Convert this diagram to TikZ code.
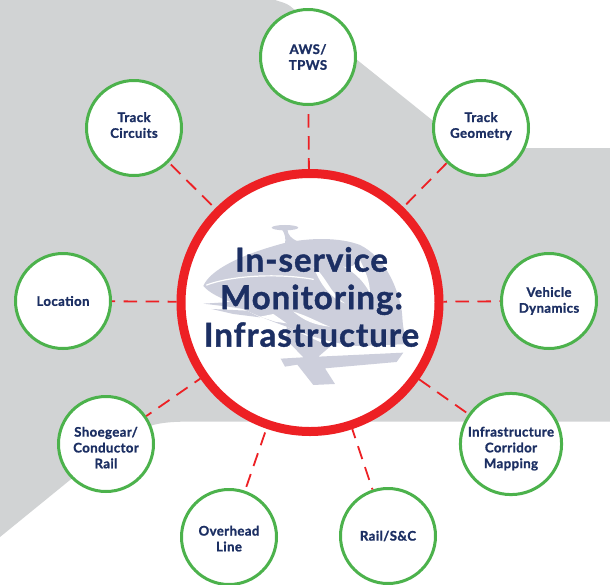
\documentclass[tikz,border=0pt]{standalone}
\usepackage{fontspec}
\setmainfont{Lato}[BoldFeatures={FakeBold=1.2,LetterSpace=3}]
\definecolor{bggray}{HTML}{D1D3D4}
\definecolor{ringred}{HTML}{ED2024}
\definecolor{ringgreen}{HTML}{4CB24C}
\definecolor{navy}{HTML}{1C2F63}
\definecolor{logogray}{HTML}{CDCFDC}
\newcommand\txtdown[1]{\rule{0pt}{#1pt}}
\newcommand\txtup[1]{\rule[-#1pt]{0pt}{0pt}}
\tikzset{
  hub/.style={circle,draw=ringred,fill=white,line width=9pt,minimum size=258pt,inner sep=0pt},
  topic/.style={circle,draw=ringgreen,fill=white,line width=3pt,minimum size=95pt,inner sep=0pt,
    align=center,text=navy,font=\fontsize{13.2}{15.8}\selectfont\bfseries},
  hubtext/.style={align=center,text=navy,font=\fontsize{33}{37.5}\selectfont\bfseries,inner sep=0pt},
  link/.style={draw=ringred,line width=1.8pt,dash pattern=on 13.5pt off 8.5pt},
  logopart/.style={fill=logogray,draw=none},
  logocut/.style={draw=white,line cap=round}
}
\begin{document}
\begin{tikzpicture}[x=1pt,y=-1pt]
\useasboundingbox (0,0) rectangle (610,584);
\fill[white] (0,0) rectangle (610,584);
\fill[bggray] (0,0) -- (275,0) .. controls (281,2) and (286,3) .. (290,6) -- (432,120)
  -- (480,148) -- (610,148) -- (610,421.6) -- (190,421.6)
  .. controls (170,421.6) and (155,423) .. (145,428) -- (70,480) -- (0,537) -- cycle;
\node[hub] (main) at (310,302.5) {};
\node[topic] (aws) at (308,57) {AWS/\\TPWS};
\node[topic] (geom) at (481,128) {Track\\Geometry\txtup{6}};
\node[topic] (dyn) at (549,301) {Vehicle\\Dynamics};
\node[topic] (corr) at (511,444) {\txtdown{19}Infrastructure\\Corridor\\Mapping};
\node[topic] (rail) at (388,536) {Rail/S\&C};
\node[topic] (over) at (229,537) {\txtdown{13}Overhead\\Line};
\node[topic] (shoe) at (106,444) {\txtdown{17}Shoegear/\\Conductor\\Rail};
\node[topic] (loc) at (63,301) {Location};
\node[topic] (circ) at (134,128) {Track\\Circuits\txtup{6}};
\draw[link,dash phase=2.5pt] (main) -- (aws);
\draw[link,dash phase=18pt] (main) -- (geom);
\draw[link,dash phase=10pt] (main) -- (dyn);
\draw[link,dash phase=0pt] (main) -- (corr);
\draw[link,dash phase=4pt] (main) -- (rail);
\draw[link,dash phase=18pt] (main) -- (over);
\draw[link,dash phase=6.5pt] (main) -- (shoe);
\draw[link,dash phase=4.5pt] (main) -- (loc);
\draw[link,dash phase=17pt] (main) -- (circ);
\begin{scope}[shift={(170,160)},x=0.3333pt,y=-0.3333pt]
  % mast
  \fill[logopart] (345,203) ellipse [x radius=40,y radius=8];
  \fill[logopart] (336,208) -- (352,208) .. controls (354,225) and (362,235) .. (385,245) -- (345,252) .. controls (348,235) and (345,222) .. (336,208) -- cycle;
  % body
  \fill[logopart] (100,378) .. controls (120,330) and (210,285) .. (340,250)
    .. controls (420,232) and (510,232) .. (570,255)
    .. controls (640,290) and (680,370) .. (695,450)
    .. controls (700,490) and (695,520) .. (722,552)
    -- (560,558) .. controls (490,550) and (420,530) .. (350,500)
    .. controls (280,475) and (220,450) .. (180,425)
    .. controls (140,410) and (115,395) .. (100,378) -- cycle;
  % streaks at the left
  \fill[logopart] (100,431) -- (200,425) -- (240,450) -- (175,440) -- cycle;
  \fill[logopart] (125,447) -- (230,452) -- (270,472) -- (190,462) -- cycle;
  % base
  \fill[logopart] (350,500) -- (480,560) -- (445,590) -- (700,578) -- (680,606)
    -- (465,625) -- (495,672) -- (430,675) -- (382,614) -- (345,620) -- (332,596)
    -- (400,592) -- (350,540) -- cycle;
  % white cuts
  \draw[logocut,line width=1.2pt] (110,375) .. controls (190,345) and (330,340) .. (430,358);
  \fill[white] (430,320) .. controls (470,350) and (480,400) .. (525,430)
    .. controls (480,415) and (450,370) .. (430,320) -- cycle;
  \fill[white] (570,300) .. controls (590,340) and (600,370) .. (600,400)
    .. controls (585,370) and (560,340) .. (520,320) .. controls (545,325) and (555,315) .. (570,300) -- cycle;
  \fill[white] (270,470) -- (310,462) -- (350,490) -- (315,485) -- cycle;
  \fill[white] (370,455) .. controls (420,470) and (450,490) .. (480,500) .. controls (430,495) and (400,480) .. (370,455) -- cycle;
\end{scope}
\node[hubtext] (title) at (311.5,297) {In-service\\Monitoring:\\Infrastructure};
\end{tikzpicture}
\end{document}
